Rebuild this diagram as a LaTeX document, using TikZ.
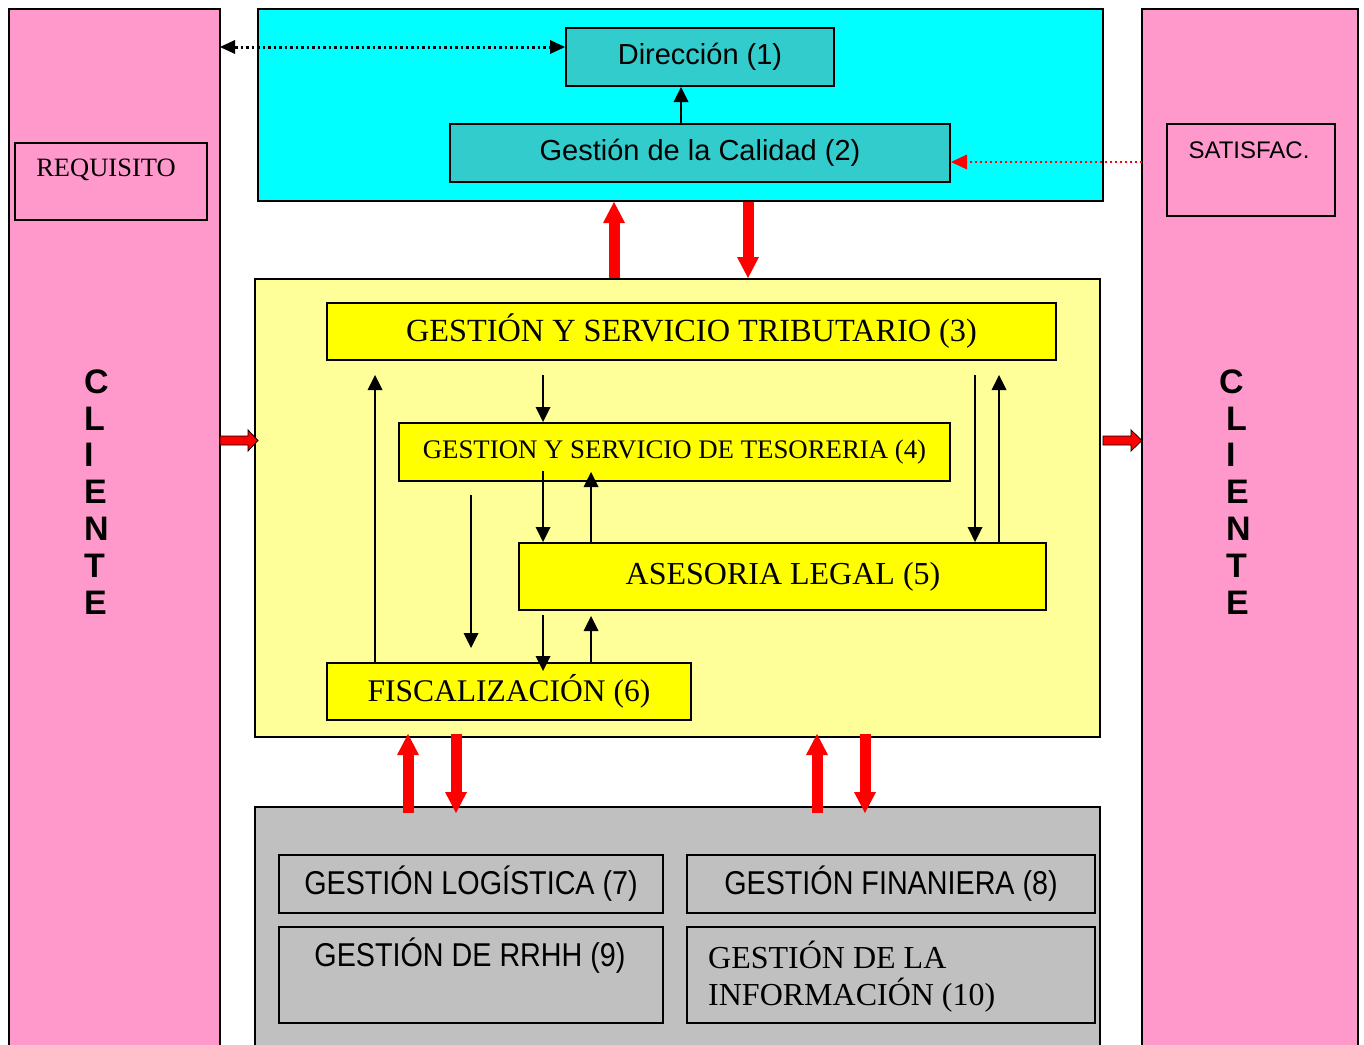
\documentclass[tikz,border=0pt]{standalone}
\usepackage{fontspec}
\setmainfont{Liberation Serif}
\setsansfont{Liberation Sans}
\newfontfamily\narrowsans{Liberation Sans}[FakeStretch=0.87]
\usetikzlibrary{arrows.meta,calc}
\definecolor{pinkc}{HTML}{FF99CC}
\definecolor{cyanc}{HTML}{00FFFF}
\definecolor{tealc}{HTML}{33CCCC}
\definecolor{lyel}{HTML}{FFFF99}
\definecolor{yelc}{HTML}{FFFF00}
\definecolor{grayc}{HTML}{C0C0C0}
\definecolor{redc}{HTML}{FF0000}
\newcommand{\fsz}[2]{\fontsize{#1}{#2}\selectfont}
\begin{document}
\begin{tikzpicture}[x=1pt,y=-1pt,
  box/.style={draw=black, line width=2pt, inner sep=0pt},
  sz/.style 2 args={minimum width=#1pt, minimum height=#2pt},
  txt/.style={inner sep=0pt},
  cli/.style={inner sep=0pt, anchor=base west, font=\sffamily\bfseries\fsz{34}{37}},
  blk/.style={line width=2pt, black, -{Triangle[width=15pt,length=15pt,line width=0pt]}},
  bigred/.style={line width=11pt, redc, -{Triangle[width=22pt,length=21pt,line width=0pt]}},
  smallred/.style={fill=redc, draw=black, line width=0.8pt},
  dotblk/.style={line width=3pt, black, dash pattern=on 2.5pt off 3pt,
     {Triangle[width=14pt,length=15pt,line width=0pt]}-{Triangle[width=14pt,length=15pt,line width=0pt]}},
  dotred/.style={line width=2.3pt, redc, dash pattern=on 2pt off 3pt,
     -{Triangle[width=15pt,length=16pt,line width=0pt]}}
]
\useasboundingbox (0,0) rectangle (1364,1044);
\fill[white] (0,0) rectangle (1364,1044);

% client columns
\node[box, fill=pinkc, sz={211}{1051}] (leftcol) at (114.5,534.5) {};
\node[box, fill=pinkc, sz={216}{1051}] (rightcol) at (1250,534.5) {};
\node[box, line width=1.8pt, sz={192}{77}] (req) at (111,181.5) {};
\node[txt, font=\fsz{26.5}{32}] (reqt) at (106,170) {REQUISITO};
\node[box, line width=1.8pt, sz={168}{92}] (sat) at (1251,170) {};
\node[txt, font=\sffamily\fsz{24}{29}] (satt) at (1249,150) {SATISFAC.};

\foreach \l [count=\i] in {C,L,I,E,N,T,E}{
  \node[cli] (cll\i) at (84,393.3+36.8*\i-36.8) {\l};
}
\node[cli] (clr1) at (1219,393.3) {C};
\foreach \l [count=\i from 2] in {L,I,E,N,T,E}{
  \node[cli] (clr\i) at (1226,393.3+36.8*\i-36.8) {\l};
}

% top block
\node[box, fill=cyanc, sz={845}{192}] (cyan) at (680.5,105) {};
\node[box, fill=tealc, sz={268}{58}, font=\sffamily\fsz{29}{34}] (dir) at (700,57) {Dirección (1)};
\node[box, fill=tealc, sz={500}{58}, font=\sffamily\fsz{29}{34}] (cal) at (700,153) {Gestión de la Calidad (2)};

% middle block
\node[box, fill=lyel, sz={845}{458}] (yel) at (677.5,508) {};
\node[box, fill=yelc, sz={729}{57}, font=\fsz{32.3}{38}] (trib) at (691.5,331.5) {GESTIÓN Y SERVICIO TRIBUTARIO (3)};
\node[box, fill=yelc, sz={551}{58}, font=\fsz{26.8}{32}] (tes) at (674.5,452) {GESTION Y SERVICIO DE TESORERIA (4)};
\node[box, fill=yelc, sz={527}{67}, font=\fsz{32}{38}] (ase) at (782.5,576.5) {\hspace*{1pt}ASESORIA LEGAL (5)};
\node[box, fill=yelc, sz={364}{57}, font=\fsz{31.5}{37}] (fis) at (509,691.5) {FISCALIZACIÓN (6)};

% bottom block
\node[box, fill=grayc, sz={845}{253}] (gray) at (677.5,933.5) {};
\node[box, line width=1.8pt, sz={384}{58}, font=\narrowsans\fsz{33}{38}] (log) at (471,884) {GESTIÓN LOGÍSTICA (7)};
\node[box, line width=1.8pt, sz={408}{58}, font=\narrowsans\fsz{33}{38}] (fin) at (891,884) {GESTIÓN FINANIERA (8)};
\node[box, line width=1.8pt, sz={384}{96}] (rrhh) at (471,975) {};
\node[txt, font=\narrowsans\fsz{33}{38}] (rrhht) at (470,956) {GESTIÓN DE RRHH (9)};
\node[box, line width=1.8pt, sz={408}{96}] (inf) at (891,975) {};
\node[txt, anchor=base west, font=\fsz{32}{37}] (inft1) at (708,968) {GESTIÓN DE LA};
\node[txt, anchor=base west, font=\fsz{32}{37}] (inft2) at (708,1005) {INFORMACIÓN (10)};

% top connectors
\coordinate (q) at (681,0);
\draw[blk] (cal.north -| q) -- (dir.south -| q);
\coordinate (d1) at (220,47);
\draw[dotblk] (d1) -- (dir.west |- d1);
\coordinate (d2) at (1142,162);
\draw[dotred] (d2) -- (cal.east |- d2);

% big red arrows
\coordinate (r1) at (614,0);
\draw[bigred] (yel.north -| r1) -- (cyan.south -| r1);
\coordinate (r2) at (748,0);
\draw[bigred] (cyan.south -| r2) -- (yel.north -| r2);
\coordinate (r3a) at (408,813); \coordinate (r3b) at (408,734);
\draw[bigred] (r3a) -- (r3b);
\coordinate (r4a) at (456,734); \coordinate (r4b) at (456,813);
\draw[bigred] (r4a) -- (r4b);
\coordinate (r5a) at (817,813); \coordinate (r5b) at (817,734);
\draw[bigred] (r5a) -- (r5b);
\coordinate (r6a) at (865,734); \coordinate (r6b) at (865,813);
\draw[bigred] (r6a) -- (r6b);

% small red block arrows
\draw[smallred] (220,436) -- (248,436) -- (248,430) -- (258,440.5) -- (248,451) -- (248,445) -- (220,445) -- cycle;
\draw[smallred] (1103,436) -- (1131,436) -- (1131,430) -- (1142,440.5) -- (1131,451) -- (1131,445) -- (1103,445) -- cycle;

% black arrows in middle block
\coordinate (p1) at (375,375);
\draw[blk] (fis.north -| p1) -- (p1);
\coordinate (p2) at (543,375);
\draw[blk] (p2) -- (tes.north -| p2);
\coordinate (p3) at (543,471);
\draw[blk] (p3) -- (ase.north -| p3);
\coordinate (p4) at (591,472);
\draw[blk] (ase.north -| p4) -- (p4);
\coordinate (p5a) at (471,495); \coordinate (p5b) at (471,648);
\draw[blk] (p5a) -- (p5b);
\coordinate (p6a) at (543,615); \coordinate (p6b) at (543,671);
\draw[blk] (p6a) -- (p6b);
\coordinate (p7) at (591,616);
\draw[blk] (fis.north -| p7) -- (p7);
\coordinate (p8) at (975,375);
\draw[blk] (p8) -- (ase.north -| p8);
\coordinate (p9) at (999,375);
\draw[blk] (ase.north -| p9) -- (p9);
\end{tikzpicture}
\end{document}
